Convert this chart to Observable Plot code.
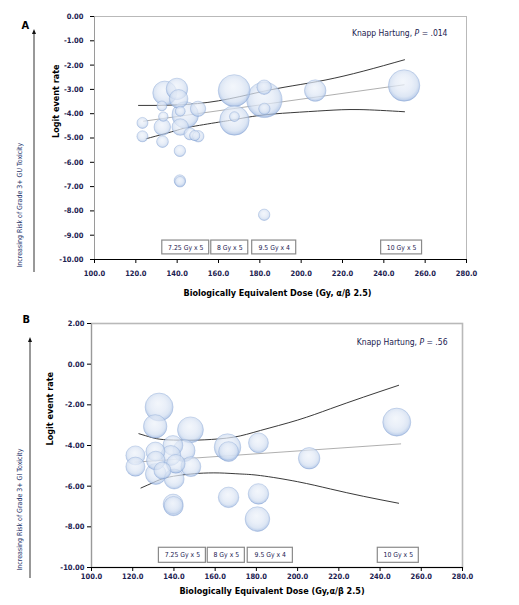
<!DOCTYPE html>
<html>
<head>
<meta charset="utf-8">
<script src="https://cdn.jsdelivr.net/npm/d3@7"></script>
<script src="https://cdn.jsdelivr.net/npm/@observablehq/plot@0.6"></script>
<style>
  body { margin: 0; background: #fff; width: 519px; height: 605px; overflow: hidden; position: relative; }
  #topbar { position: absolute; left: 0; top: 0; width: 499px; height: 3px; background: #000; }
  .panel { position: absolute; left: 0; }
</style>
</head>
<body>
<div id="topbar"></div>
<div id="panelA" class="panel" style="top:0px"></div>
<div id="panelB" class="panel" style="top:300px"></div>
<script>
const font = "'Liberation Sans Narrow', 'DejaVu Sans Condensed', sans-serif";
const navy = "#1b2150";

const xTicks = [100, 120, 140, 160, 180, 200, 220, 240, 260, 280];
const yTicksA = [-10, -9, -8, -7, -6, -5, -4, -3, -2, -1, 0];
const yTicksB = [-10, -8, -6, -4, -2, 0, 2];

const regimens = ["7.25 Gy x 5", "8 Gy x 5", "9.5 Gy x 4", "10 Gy x 5"];

// Panel A: GU toxicity
const doseA = [134.0, 139.9, 140.7, 132.6, 133.3, 141.5, 150.1, 143.9, 141.5, 132.8, 123.2, 123.2, 132.9, 146.2,
  148.5, 150.2, 141.3, 141.3, 141.4, 167.6, 167.7, 167.7, 182.2, 182.1, 182.2, 182.1, 206.8, 249.8];
const logitA = [-3.15, -2.98, -3.39, -3.68, -4.12, -3.90, -3.80, -4.05, -4.55, -4.55, -4.38, -4.93, -5.15, -4.83,
  -4.90, -4.93, -5.53, -6.75, -6.80, -3.05, -4.28, -4.12, -3.43, -2.91, -3.80, -8.16, -3.05, -2.84];
const weightA = [7.1, 5.7, 4.3, 1.2, 1.1, 1.2, 2.9, 8.7, 3.4, 3.4, 1.5, 1.5, 1.7, 1.8,
  1.3, 1.6, 1.6, 1.6, 1.4, 12.6, 10.7, 1.2, 15.5, 2.6, 1.6, 1.6, 5.7, 12.2];
const fitDoseA = [123.7, 249.8];
const fitA = [-4.31, -2.81];
const upperDoseA = [121.3, 140, 160, 180, 196, 212, 230, 250];
const upperA = [-3.66, -3.64, -3.47, -3.11, -2.85, -2.61, -2.25, -1.78];
const lowerDoseA = [125, 140, 146, 160, 168, 180, 195, 212, 228, 250];
const lowerA = [-5.03, -4.68, -4.55, -4.35, -4.24, -4.07, -3.96, -3.87, -3.83, -3.92];
const boxStartA = [132.8, 156.5, 176.3, 238.7];
const boxEndA = [155.5, 174.4, 197.6, 258.5];

// Panel B: GI toxicity
const doseB = [132.8, 130.9, 148.0, 121.3, 121.3, 131.0, 131.2, 139.5, 144.9, 138.5, 140.9, 148.2, 140.1, 139.6,
  139.8, 131.2, 134.4, 166.0, 166.5, 181.0, 166.5, 181.0, 180.5, 205.6, 248.1];
const logitB = [-2.11, -3.06, -3.23, -4.49, -5.04, -4.30, -5.40, -4.00, -4.25, -4.49, -4.90, -5.04, -5.65, -6.88,
  -6.98, -4.74, -5.23, -4.08, -4.30, -3.87, -6.55, -6.38, -7.62, -4.63, -2.85];
const weightB = [9.7, 6.8, 8.3, 4.5, 4.5, 4.5, 5.4, 4.9, 6.0, 4.9, 4.3, 4.9, 4.9, 4.9,
  4.6, 4.3, 3.6, 8.7, 4.9, 4.9, 5.2, 5.2, 7.5, 5.7, 9.7];
const fitDoseB = [121, 250];
const fitB = [-4.82, -3.92];
const upperDoseB = [123, 129, 135, 145, 155, 169, 182, 200, 216, 232, 249];
const upperB = [-3.42, -3.60, -3.71, -3.74, -3.72, -3.59, -3.26, -2.75, -2.19, -1.62, -1.04];
const lowerDoseB = [124, 130, 136, 144, 152, 162, 172, 182, 200, 216, 232, 249];
const lowerB = [-6.09, -5.82, -5.59, -5.45, -5.37, -5.35, -5.40, -5.48, -5.78, -6.14, -6.50, -6.84];
const boxStartB = [132.7, 156.4, 175.8, 238.9];
const boxEndB = [155.5, 174.4, 197.7, 258.8];

const zip = (xs, ys) => xs.map((x, i) => ({x, y: ys[i]}));

function drawPanel(cfg) {
  const bubbles = cfg.dose.map((d, i) => ({dose: d, logit: cfg.logit[i], w: cfg.weight[i]}));
  const boxes = regimens.map((label, i) => ({label, x1: cfg.boxStart[i], x2: cfg.boxEnd[i]}));
  const [bLo, bHi] = cfg.boxY;

  const plot = Plot.plot({
    width: 519,
    height: cfg.height,
    marginLeft: cfg.margin[3],
    marginRight: cfg.margin[1],
    marginTop: cfg.margin[0],
    marginBottom: cfg.margin[2],
    style: {fontFamily: font, fontSize: "7.5px", color: navy, background: "#fff", overflow: "visible"},
    x: {domain: [100, 280]},
    y: {domain: cfg.yDomain},
    r: {type: "sqrt", domain: [0, 16], range: [0, 18]},
    marks: [
      Plot.frame({stroke: "#b9b9b9", strokeWidth: cfg.frameWidth}),
      Plot.ruleX([100], {stroke: "#9a9a9a"}),
      Plot.ruleY([-10], {stroke: "#000"}),
      Plot.axisX({ticks: xTicks, tickFormat: d => d.toFixed(1), tickSize: 4, tickPadding: cfg.xPad,
        stroke: "#000", fontWeight: "bold", label: null}),
      Plot.axisY({ticks: cfg.yTicks, tickFormat: d => d.toFixed(2), tickSize: 4, tickPadding: cfg.yPad,
        stroke: "#000", fontWeight: "bold", label: null}),
      Plot.line(zip(cfg.upperDose, cfg.upper), {x: "x", y: "y", stroke: "#222", strokeWidth: 0.9, curve: "natural"}),
      Plot.line(zip(cfg.lowerDose, cfg.lower), {x: "x", y: "y", stroke: "#222", strokeWidth: 0.9, curve: "natural"}),
      Plot.line(zip(cfg.fitDose, cfg.fit), {x: "x", y: "y", stroke: "#8c8c8c", strokeWidth: 0.7}),
      Plot.dot(bubbles, {x: "dose", y: "logit", r: "w", fill: "#dfe8f5", fillOpacity: 0.72,
        stroke: "#8fabd8", strokeWidth: 0.5, strokeOpacity: 0.8}),
      Plot.rect(boxes, {x1: "x1", x2: "x2", y1: bLo, y2: bHi, fill: "#fff", stroke: "#8a8a8a", strokeWidth: 1.2}),
      Plot.text(boxes, {x: d => (d.x1 + d.x2) / 2, y: (bLo + bHi) / 2, text: "label", fontSize: 6.8, fill: navy}),
      Plot.text([cfg.note], {frameAnchor: "top-right", dx: cfg.noteDx, dy: cfg.noteDy, textAnchor: "end",
        fontSize: 8.5, fill: navy}),
      Plot.text([cfg.yLabel], {frameAnchor: "left", dx: cfg.yLabelDx, rotate: -90, fontSize: 9,
        fontWeight: "bold", fill: "#000"}),
      Plot.text([cfg.xLabel], {frameAnchor: "bottom", dx: cfg.xLabelDx, dy: cfg.xLabelDy, fontSize: 9,
        fontWeight: "bold", fill: "#000"}),
      Plot.text([cfg.side], {frameAnchor: "bottom-left", dx: cfg.sideDx, dy: cfg.sideDy, rotate: -90,
        textAnchor: "start", fontSize: 7, fill: "#26346b"}),
      Plot.text([cfg.letter], {frameAnchor: "top-left", dx: cfg.letterDx, dy: cfg.letterDy, fontSize: 11,
        fontWeight: "bold", fill: "#000"})
    ]
  });

  const svg = d3.select(plot);
  const gid = "bubble" + cfg.letter;
  const grad = svg.append("defs").append("radialGradient")
    .attr("id", gid).attr("cx", "50%").attr("cy", "46%").attr("r", "54%").attr("fx", "46%").attr("fy", "36%");
  [["0%", "#eef3fa"], ["50%", "#e1e9f6"], ["78%", "#d0ddf0"], ["92%", "#aec4e6"], ["100%", "#7d9dd2"]]
    .forEach(([o, c]) => grad.append("stop").attr("offset", o).attr("stop-color", c));
  svg.selectAll('g[aria-label="dot"] circle').attr("fill", `url(#${gid})`);

  // italic P in the Knapp Hartung note
  svg.selectAll("text").filter(function () { return this.textContent === cfg.note; })
    .each(function () {
      const t = d3.select(this);
      const [pre, post] = cfg.note.split("P");
      t.text(null);
      t.append("tspan").text(pre);
      t.append("tspan").attr("font-style", "italic").text("P");
      t.append("tspan").text(post);
    });

  // risk arrow beside the side note
  const [ax, ay1, ay2] = cfg.arrow;
  svg.append("line").attr("x1", ax).attr("x2", ax).attr("y1", ay1).attr("y2", ay2 + 4)
    .attr("stroke", "#333").attr("stroke-width", 1);
  svg.append("path").attr("d", `M${ax - 2},${ay2 + 5}L${ax},${ay2}L${ax + 2},${ay2 + 5}Z`).attr("fill", "#111");

  document.getElementById(cfg.el).appendChild(plot);
}

drawPanel({
  el: "panelA", letter: "A", height: 300, margin: [16, 53, 41, 94],
  yDomain: [-10, 0], yTicks: yTicksA, xPad: 7, yPad: 7, frameWidth: 1,
  dose: doseA, logit: logitA, weight: weightA,
  fitDose: fitDoseA, fit: fitA, upperDose: upperDoseA, upper: upperA, lowerDose: lowerDoseA, lower: lowerA,
  boxStart: boxStartA, boxEnd: boxEndA, boxY: [-9.79, -9.22],
  note: "Knapp Hartung, P = .014", noteDx: -19, noteDy: 13,
  yLabel: "Logit event rate", yLabelDx: -38,
  xLabel: "Biologically Equivalent Dose (Gy, α/β 2.5)", xLabelDx: -3, xLabelDy: 36,
  side: "Increasing Risk of Grade 3+ GU Toxicity", sideDx: -73, sideDy: 8,
  letterDx: -73, letterDy: 5,
  arrow: [34, 272, 29]
});

drawPanel({
  el: "panelB", letter: "B", height: 305, margin: [23, 57, 38, 91],
  yDomain: [-10, 2], yTicks: yTicksB, xPad: 2, yPad: 3, frameWidth: 1.6,
  dose: doseB, logit: logitB, weight: weightB,
  fitDose: fitDoseB, fit: fitB, upperDose: upperDoseB, upper: upperB, lowerDose: lowerDoseB, lower: lowerB,
  boxStart: boxStartB, boxEnd: boxEndB, boxY: [-9.77, -9.03],
  note: "Knapp Hartung, P = .56", noteDx: -15, noteDy: 15,
  yLabel: "Logit event rate", yLabelDx: -41,
  xLabel: "Biologically Equivalent Dose (Gy,α/β 2.5)", xLabelDx: -5, xLabelDy: 26,
  side: "Increasing Risk of Grade 3+ GI Toxicity", sideDx: -70, sideDy: 3,
  letterDx: -69, letterDy: -8,
  arrow: [30, 278, 37]
});
</script>
</body>
</html>
